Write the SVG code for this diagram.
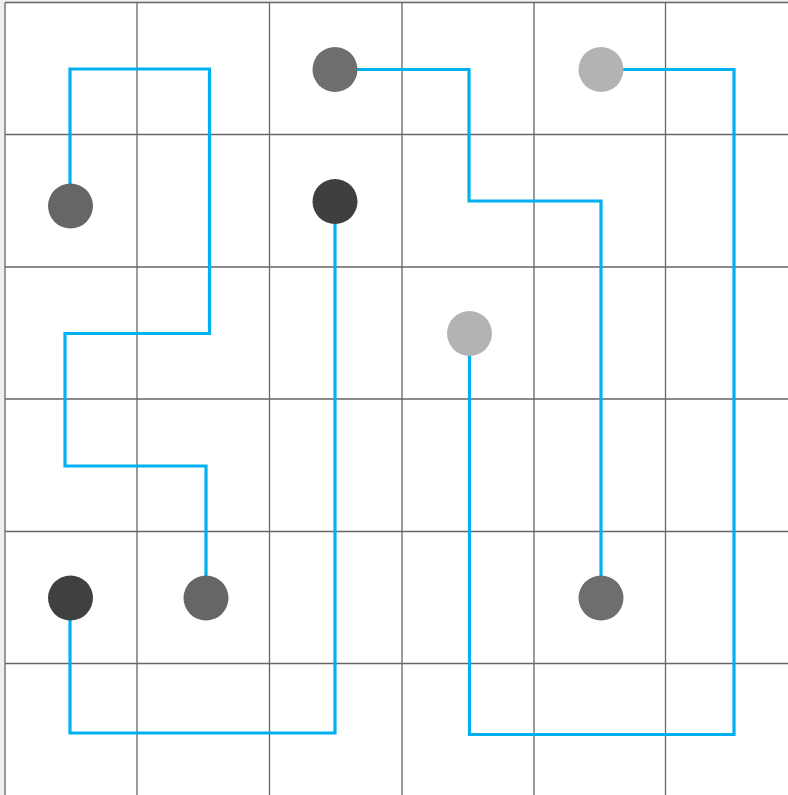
<svg xmlns="http://www.w3.org/2000/svg" width="788" height="795" viewBox="0 0 788 795">
<style>
.g{stroke:#666;stroke-width:1.3;fill:none}
.c{stroke:#00b0f0;stroke-width:3.2;fill:none;stroke-linejoin:miter}
</style>
<rect x="0" y="0" width="788" height="795" fill="#efefef"/>
<rect x="5" y="2.5" width="783" height="792.5" fill="#fff"/>
<g id="grid">
<path class="g" d="M5,2.5V795M137,2.5V795M269.5,2.5V795M402,2.5V795M534,2.5V795M665.5,2.5V795"/>
<path class="g" d="M5,2.5H788M5,134.5H788M5,267H788M5,399H788M5,531.5H788M5,663.5H788"/>
</g>
<g id="connectors">
<path class="c" d="M70,206V69H209.5V333.5H65V466H206V598"/>
<path class="c" d="M335,69.5H469V201H601V598"/>
<path class="c" d="M601,69.5H734V734.5H469.5V333"/>
<path class="c" d="M335,201V733H70V598"/>
</g>
<g id="n1"><circle cx="70.5" cy="206" r="22.5" fill="#666"/></g>
<g id="n2"><circle cx="335" cy="69.5" r="22.5" fill="#6e6e6e"/></g>
<g id="n3"><circle cx="601" cy="69.5" r="22.5" fill="#b3b3b3"/></g>
<g id="n4"><circle cx="335" cy="201.5" r="22.5" fill="#3f3f3f"/></g>
<g id="n5"><circle cx="469.5" cy="333.5" r="22.5" fill="#b3b3b3"/></g>
<g id="n6"><circle cx="70.5" cy="598" r="22.5" fill="#404040"/></g>
<g id="n7"><circle cx="206" cy="598" r="22.5" fill="#666"/></g>
<g id="n8"><circle cx="601" cy="598" r="22.5" fill="#6e6e6e"/></g>
</svg>
